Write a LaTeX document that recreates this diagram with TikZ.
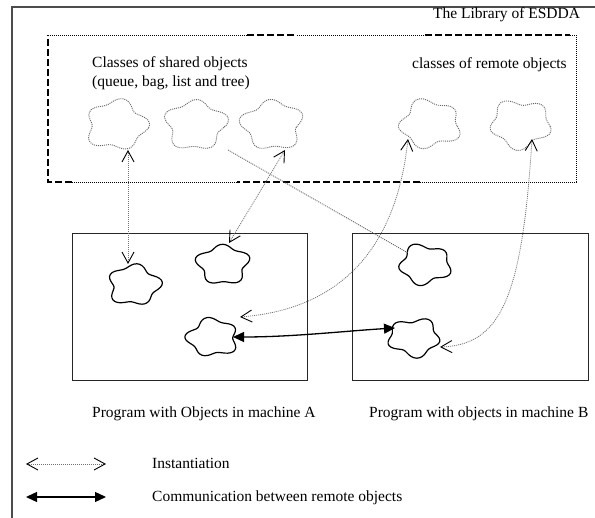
\documentclass[tikz,border=0pt]{standalone}
\usepackage{fontspec}
\setmainfont{Liberation Serif}
\usetikzlibrary{arrows.meta,shapes.geometric}

% A wavy blob: a named ellipse node (for anchoring connectors) plus its outline
\newcommand\blobat[7]{% name, x, y, rx, ry, phase, style
  \node[ellipse, inner sep=0pt, minimum width={2*#4}, minimum height={2*#5}] (#1) at (#2,#3) {};
  \draw[#7] plot[smooth cycle, samples=60, domain=0:354]
    ({#2+#4*(1+0.13*cos(5*\x+#6)+0.05*sin(3*\x+2*#6))*cos(\x)/1.15},
     {#3+#5*(1+0.13*cos(5*\x+#6)+0.05*sin(3*\x+2*#6))*sin(\x)/1.15});
}

\begin{document}
\begin{tikzpicture}[x=1pt,y=-1pt,
  barb/.tip={Straight Barb[length=11pt,width=12pt,line width=0.9pt,color=black]},
  tri/.tip={Triangle[length=11pt,width=10pt]},
  txt/.style={font=\fontsize{15.5}{18}\selectfont, inner sep=0pt, anchor=base west, align=left},
  frame/.style={draw=black!70, line width=1.4pt},
  progbox/.style={draw=black!85, line width=1.2pt, inner sep=0pt, anchor=north west},
  classblob/.style={draw=black!60, line width=0.9pt, dash pattern=on 1pt off 1pt},
  objblob/.style={draw=black, line width=1.2pt},
  inst/.style={draw=black!55, line width=0.8pt, dash pattern=on 1pt off 1pt, arrows={barb-barb}},
  link/.style={draw=black!65, line width=0.8pt, dash pattern=on 1pt off 1pt},
  comm/.style={draw=black, line width=1.3pt, arrows={tri-tri}},
  libdash/.style={line width=1.8pt, dash pattern=on 7pt off 3pt},
  libdot/.style={line width=0.9pt, dash pattern=on 1pt off 1pt},
]
\useasboundingbox (0,0) rectangle (595,518);

% outer frame (top and left edges)
\draw[frame] (12,518) -- (12,7) -- (595,7);
\node[txt] (title) at (433,19) {The Library of ESDDA};

% library of classes
\draw[libdot] (48,35) -- (247,35);
\draw[libdash] (247,35) -- (297,35);
\draw[libdot] (297,35) -- (425,35);
\draw[libdash] (425,35) -- (570,35);
\draw[libdot] (570,35) -- (576,35) -- (576,182) -- (420,182);
\draw[libdash] (420,182) -- (237,182);
\draw[libdot] (237,182) -- (72,182);
\draw[libdash] (72,182) -- (48,182) -- (48,35);

\node[txt] (shared) at (92,68) {Classes of shared objects};
\node[txt] (sharedkinds) at (92,87) {(queue, bag, list and tree)};
\node[txt] (remote) at (412,69) {classes of remote objects};

\blobat{c1}{116.5}{125}{33}{27}{20}{classblob}
\blobat{c2}{195.5}{125}{33}{27}{70}{classblob}
\blobat{c3}{272.5}{125}{33}{27}{120}{classblob}
\blobat{c4}{430}{124}{33}{26}{200}{classblob}
\blobat{c5}{520.5}{124}{33}{26}{250}{classblob}

% programs
\node[progbox, minimum width=235, minimum height=147] (progA) at (72,233) {};
\node[progbox, minimum width=236, minimum height=147] (progB) at (352,233) {};

\blobat{a1}{134}{285}{28}{22}{40}{objblob}
\blobat{a2}{223}{264.5}{28}{21.5}{100}{objblob}
\blobat{a3}{212.5}{337.5}{27.5}{20.5}{160}{objblob}
\blobat{b1}{425}{264.5}{28}{21.5}{220}{objblob}
\blobat{b2}{414}{337.5}{28}{20.5}{300}{objblob}

\node[txt] (labA) at (92,418) {Program with Objects in machine A};
\node[txt] (labB) at (369,418) {Program with objects in machine B};

% instantiation links
\draw[inst] ([shift={(11.5,25)}]c1.center) -- ([shift={(-6,-21)}]a1.center);
\draw[inst] ([shift={(12.5,25)}]c3.center) -- ([shift={(6,-21.5)}]a2.center);
\draw[inst] ([shift={(-22,15)}]c4.center) .. controls +(-13,121) and +(90,-7) .. ([shift={(27.5,-20.5)}]a3.center);
\draw[inst] ([shift={(11.5,15)}]c5.center) .. controls +(-10,161) and +(60,-2) .. ([shift={(26,9.5)}]b2.center);
\draw[link] ([shift={(32.5,25)}]c2.center) -- ([shift={(-17,-11.5)}]b1.center);

% communication between remote objects
\draw[comm] ([shift={(20.5,-0.5)}]a3.center) .. controls +(60,0) and +(-50,3) .. ([shift={(-19,-9.5)}]b2.center);

% legend
\coordinate (l1a) at (26,464);
\coordinate (l1b) at (106,464);
\coordinate (l2a) at (26,497);
\coordinate (l2b) at (106,497);
\draw[inst] (l1a) -- (l1b);
\draw[comm] (l2a) -- (l2b);
\node[txt] (leg1) at (152,469) {Instantiation};
\node[txt] (leg2) at (152,502) {Communication between remote objects};
\end{tikzpicture}
\end{document}
